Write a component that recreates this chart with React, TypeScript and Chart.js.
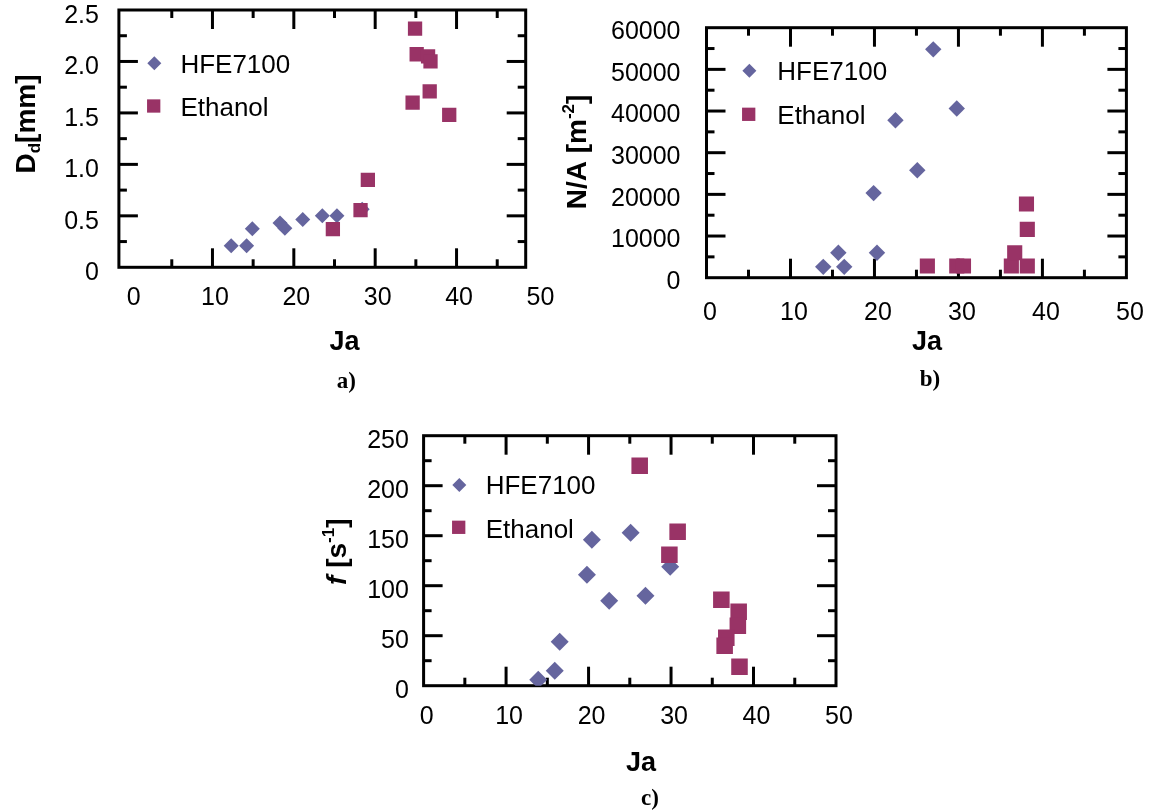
import React, { useEffect, useRef } from 'react';
import { Chart, registerables } from 'chart.js';

Chart.register(...registerables);

const SANS = '"Liberation Sans", Arial, Helvetica, sans-serif';
const SERIF = '"Liberation Serif", "Times New Roman", serif';
const HFE_COLOR = '#65659E';
const ETH_COLOR = '#993366';
const SERIES_NAMES = ['HFE7100', 'Ethanol'];

// ---- panel a) : departure diameter D_d [mm] vs Ja
const jaHfeA = [12.3, 14.2, 14.9, 18.3, 18.9, 21.1, 23.5, 25.3, 28.4];
const ddHfeA = [0.21, 0.21, 0.375, 0.43, 0.38, 0.465, 0.5, 0.5, 0.565];
const jaEthA = [24.8, 28.2, 29.1, 34.9, 35.1, 36.5, 36.8, 36.7, 34.6, 39.1];
const ddEthA = [0.37, 0.555, 0.85, 2.32, 2.07, 2.05, 2.0, 1.71, 1.6, 1.48];

// ---- panel b) : nucleation site density N/A [m^-2] vs Ja
const jaHfeB = [13.9, 15.7, 16.4, 19.9, 20.3, 22.5, 25.1, 27.0, 29.8];
const naHfeB = [2600, 6000, 2600, 20300, 6000, 37800, 25800, 54800, 40600];
const jaEthB = [26.3, 29.8, 30.6, 36.3, 36.7, 38.2, 38.2, 38.1];
const naEthB = [2800, 2800, 2800, 2800, 6000, 2800, 11600, 17700];

// ---- panel c) : bubble frequency f [s^-1] vs Ja
const jaHfeC = [13.9, 15.9, 16.5, 19.8, 20.4, 22.5, 25.1, 26.9, 29.9];
const fHfeC = [6, 15, 44, 111, 146, 85, 153, 90, 119];
const jaEthC = [26.2, 30.8, 29.8, 36.1, 38.2, 38.1, 36.7, 36.5, 38.3];
const fEthC = [220, 154, 131, 86, 74, 60, 48, 40, 19];

// ---- axis ticks
const xTickValues = [0, 10, 20, 30, 40, 50];
const xTickLabels = ['0', '10', '20', '30', '40', '50'];
const xMajorMarks = [10, 20, 30, 40];
const xMinorMarks = [5, 15, 25, 35, 45];

const yTicksA = [0, 0.5, 1, 1.5, 2, 2.5];
const yLabelsA = ['0', '0.5', '1.0', '1.5', '2.0', '2.5'];
const yMinorA = [0.25, 0.75, 1.25, 1.75, 2.25];

const yTicksB = [0, 10000, 20000, 30000, 40000, 50000, 60000];
const yLabelsB = ['0', '10000', '20000', '30000', '40000', '50000', '60000'];
const yMinorB = [5000, 15000, 25000, 35000, 45000, 55000];

const yTicksC = [0, 50, 100, 150, 200, 250];
const yLabelsC = ['0', '50', '100', '150', '200', '250'];
const yMinorC = [25, 75, 125, 175, 225];

type Seg = { text: string; mode?: 'sub' | 'sup'; italic?: boolean };

type Panel = {
  key: string;
  canvas: { left: number; top: number; width: number; height: number };
  frame: { l: number; t: number; r: number; b: number };
  xRange: [number, number];
  yRange: [number, number];
  yTicks: number[];
  yLabels: string[];
  yMinor: number[];
  hfeX: number[];
  hfeY: number[];
  ethX: number[];
  ethY: number[];
  diamondR: number;
  squareR: number;
  xPad: number;
  xOffset: number;
  yPad: number;
  yOffset: number;
  legend: { dx: number; dy: number; sx: number; sy: number; tx: number; ty1: number; ty2: number };
  xTitle: { x: number; y: number };
  yTitle: { x: number; y: number; segs: Seg[] };
  caption: { text: string; x: number; y: number };
};

const Y_AXIS_W = 110;
const X_AXIS_H = 60;
const MAJOR = 19;
const MINOR = 8;
const TICK_FONT = 25;
const LEGEND_FONT = 26;
const XTITLE_FONT = 27;
const YTITLE_FONT = 28;

const panels: Panel[] = [
  {
    key: 'a',
    canvas: { left: 0, top: -30, width: 575, height: 440 },
    frame: { l: 118.9, t: 10, r: 525.7, b: 267.3 },
    xRange: [-1.5, 48.5],
    yRange: [0, 2.5],
    yTicks: yTicksA,
    yLabels: yLabelsA,
    yMinor: yMinorA,
    hfeX: jaHfeA,
    hfeY: ddHfeA,
    ethX: jaEthA,
    ethY: ddEthA,
    diamondR: 7.5,
    squareR: 10.1,
    xPad: 7.7,
    xOffset: 2.5,
    yPad: 12,
    yOffset: 6,
    legend: { dx: 154.3, dy: 63.3, sx: 153.7, sy: 106, tx: 180.4, ty1: 65.5, ty2: 108.8 },
    xTitle: { x: 344.6, y: 342.7 },
    yTitle: { x: 27, y: 124, segs: [{ text: 'D' }, { text: 'd', mode: 'sub' }, { text: '[mm]' }] },
    caption: { text: 'a)', x: 346.4, y: 380 },
  },
  {
    key: 'b',
    canvas: { left: 555, top: -30, width: 600, height: 440 },
    frame: { l: 706.5, t: 27.7, r: 1126.4, b: 277.7 },
    xRange: [0, 50],
    yRange: [0, 60000],
    yTicks: yTicksB,
    yLabels: yLabelsB,
    yMinor: yMinorB,
    hfeX: jaHfeB,
    hfeY: naHfeB,
    ethX: jaEthB,
    ethY: naEthB,
    diamondR: 8.2,
    squareR: 10.7,
    xPad: 12.3,
    xOffset: 3.5,
    yPad: 18,
    yOffset: 4.5,
    legend: { dx: 749.4, dy: 70.7, sx: 748.7, sy: 114.3, tx: 777.3, ty1: 73.3, ty2: 117 },
    xTitle: { x: 927, y: 342.7 },
    yTitle: {
      x: 578,
      y: 152,
      segs: [{ text: 'N/A [m' }, { text: '-2', mode: 'sup' }, { text: ']' }],
    },
    caption: { text: 'b)', x: 930, y: 378 },
  },
  {
    key: 'c',
    canvas: { left: 280, top: 400, width: 620, height: 412 },
    frame: { l: 423.6, t: 435.7, r: 836, b: 685.7 },
    xRange: [0, 50],
    yRange: [0, 250],
    yTicks: yTicksC,
    yLabels: yLabelsC,
    yMinor: yMinorC,
    hfeX: jaHfeC,
    hfeY: fHfeC,
    ethX: jaEthC,
    ethY: fEthC,
    diamondR: 9,
    squareR: 11.7,
    xPad: 8,
    xOffset: 3,
    yPad: 6.7,
    yOffset: 5,
    legend: { dx: 459.3, dy: 485, sx: 458.7, sy: 527.3, tx: 485.7, ty1: 486.7, ty2: 530.7 },
    xTitle: { x: 641, y: 763.3 },
    yTitle: {
      x: 338,
      y: 551.7,
      segs: [{ text: 'f', italic: true }, { text: ' [s' }, { text: '-1', mode: 'sup' }, { text: ']' }],
    },
    caption: { text: 'c)', x: 650, y: 797.3 },
  },
];

function drawRich(ctx: CanvasRenderingContext2D, segs: Seg[], cx: number, cy: number, size: number, rotate: boolean) {
  ctx.save();
  ctx.translate(cx, cy);
  if (rotate) ctx.rotate(-Math.PI / 2);
  const fontFor = (s: Seg) => `${s.italic ? 'italic ' : ''}bold ${s.mode ? Math.round(size * 0.62) : size}px ${SANS}`;
  let total = 0;
  const widths = segs.map((s) => {
    ctx.font = fontFor(s);
    const w = ctx.measureText(s.text).width;
    total += w;
    return w;
  });
  let x = -total / 2;
  ctx.textBaseline = 'middle';
  ctx.textAlign = 'left';
  ctx.fillStyle = '#000';
  segs.forEach((s, i) => {
    ctx.font = fontFor(s);
    const dy = s.mode === 'sub' ? size * 0.3 : s.mode === 'sup' ? -size * 0.3 : 0;
    ctx.fillText(s.text, x, dy);
    x += widths[i];
  });
  ctx.restore();
}

function diamond(ctx: CanvasRenderingContext2D, x: number, y: number, r: number) {
  ctx.beginPath();
  ctx.moveTo(x - r, y);
  ctx.lineTo(x, y - r);
  ctx.lineTo(x + r, y);
  ctx.lineTo(x, y + r);
  ctx.closePath();
  ctx.fill();
}

function square(ctx: CanvasRenderingContext2D, x: number, y: number, r: number) {
  const h = r * Math.SQRT1_2;
  ctx.fillRect(x - h, y - h, 2 * h, 2 * h);
}

function makeDecor(p: Panel) {
  const ox = p.canvas.left;
  const oy = p.canvas.top;
  return {
    id: 'decor_' + p.key,
    beforeDatasetsDraw(chart: any) {
      const { ctx, chartArea: a, scales } = chart;
      const xs = scales.x;
      const ys = scales.y;
      ctx.save();
      ctx.strokeStyle = '#000';
      ctx.lineWidth = 3;
      ctx.lineCap = 'butt';
      const seg = (x1: number, y1: number, x2: number, y2: number) => {
        ctx.beginPath();
        ctx.moveTo(x1, y1);
        ctx.lineTo(x2, y2);
        ctx.stroke();
      };
      const xMark = (v: number, len: number) => {
        const px = xs.getPixelForValue(v);
        if (px <= a.left + 2 || px >= a.right - 2) return;
        seg(px, a.bottom, px, a.bottom - len);
        seg(px, a.top, px, a.top + len);
      };
      const yMark = (v: number, len: number) => {
        const py = ys.getPixelForValue(v);
        if (py <= a.top + 2 || py >= a.bottom - 2) return;
        seg(a.left, py, a.left + len, py);
        seg(a.right, py, a.right - len, py);
      };
      xMajorMarks.forEach((v) => xMark(v, MAJOR));
      xMinorMarks.forEach((v) => xMark(v, MINOR));
      p.yTicks.forEach((v) => yMark(v, MAJOR));
      p.yMinor.forEach((v) => yMark(v, MINOR));
      ctx.strokeRect(a.left, a.top, a.right - a.left, a.bottom - a.top);
      ctx.restore();
    },
    afterDraw(chart: any) {
      const ctx: CanvasRenderingContext2D = chart.ctx;
      const L = p.legend;
      ctx.save();
      ctx.fillStyle = HFE_COLOR;
      diamond(ctx, L.dx - ox, L.dy - oy, 7);
      ctx.fillStyle = ETH_COLOR;
      square(ctx, L.sx - ox, L.sy - oy, 9.4);
      ctx.fillStyle = '#000';
      ctx.font = `${LEGEND_FONT}px ${SANS}`;
      ctx.textAlign = 'left';
      ctx.textBaseline = 'middle';
      ctx.fillText(SERIES_NAMES[0], L.tx - ox, L.ty1 - oy);
      ctx.fillText(SERIES_NAMES[1], L.tx - ox, L.ty2 - oy);
      ctx.restore();
      drawRich(ctx, [{ text: 'Ja' }], p.xTitle.x - ox, p.xTitle.y - oy, XTITLE_FONT, false);
      drawRich(ctx, p.yTitle.segs, p.yTitle.x - ox, p.yTitle.y - oy, YTITLE_FONT, true);
    },
  };
}

function buildConfig(p: Panel): any {
  const ox = p.canvas.left;
  const oy = p.canvas.top;
  const fl = p.frame.l - ox;
  const ft = p.frame.t - oy;
  const fr = p.frame.r - ox;
  const fb = p.frame.b - oy;
  return {
    type: 'scatter',
    data: {
      datasets: [
        {
          label: SERIES_NAMES[0],
          data: p.hfeX.map((x, i) => ({ x, y: p.hfeY[i] })),
          pointStyle: 'rectRot',
          pointRadius: p.diamondR,
          backgroundColor: HFE_COLOR,
          borderColor: HFE_COLOR,
          borderWidth: 0,
          order: 1,
        },
        {
          label: SERIES_NAMES[1],
          data: p.ethX.map((x, i) => ({ x, y: p.ethY[i] })),
          pointStyle: 'rect',
          pointRadius: p.squareR,
          backgroundColor: ETH_COLOR,
          borderColor: ETH_COLOR,
          borderWidth: 0,
          order: 0,
        },
      ],
    },
    options: {
      animation: false,
      responsive: false,
      maintainAspectRatio: false,
      events: [],
      layout: {
        padding: {
          left: fl - Y_AXIS_W,
          top: ft,
          right: p.canvas.width - fr,
          bottom: p.canvas.height - fb - X_AXIS_H,
        },
      },
      plugins: {
        legend: { display: false },
        tooltip: { enabled: false },
        title: { display: false },
      },
      scales: {
        x: {
          type: 'linear',
          min: p.xRange[0],
          max: p.xRange[1],
          grid: { display: false },
          border: { display: false },
          ticks: {
            color: '#000',
            font: { family: SANS, size: TICK_FONT },
            padding: p.xPad,
            labelOffset: p.xOffset,
            autoSkip: false,
            maxRotation: 0,
            minRotation: 0,
            includeBounds: false,
            callback: (_v: any, i: number) => xTickLabels[i],
          },
          afterBuildTicks: (s: any) => {
            s.ticks = xTickValues.map((v) => ({ value: v }));
          },
          afterFit: (s: any) => {
            s.height = X_AXIS_H;
          },
        },
        y: {
          type: 'linear',
          min: p.yRange[0],
          max: p.yRange[1],
          grid: { display: false },
          border: { display: false },
          ticks: {
            color: '#000',
            font: { family: SANS, size: TICK_FONT },
            padding: p.yPad,
            labelOffset: p.yOffset,
            autoSkip: false,
            includeBounds: false,
            callback: (_v: any, i: number) => p.yLabels[i],
          },
          afterBuildTicks: (s: any) => {
            s.ticks = p.yTicks.map((v) => ({ value: v }));
          },
          afterFit: (s: any) => {
            s.width = Y_AXIS_W;
          },
        },
      },
    },
    plugins: [makeDecor(p)],
  };
}

function PanelChart({ p }: { p: Panel }) {
  const ref = useRef<HTMLCanvasElement>(null);
  useEffect(() => {
    const c = ref.current;
    if (!c) return;
    const chart = new Chart(c, buildConfig(p));
    return () => chart.destroy();
  }, [p]);
  return (
    <canvas
      ref={ref}
      width={p.canvas.width}
      height={p.canvas.height}
      style={{
        position: 'absolute',
        left: p.canvas.left,
        top: p.canvas.top,
        width: p.canvas.width,
        height: p.canvas.height,
      }}
    />
  );
}

export default function App() {
  return (
    <div
      style={{
        position: 'absolute',
        left: 0,
        top: 0,
        width: 1155,
        height: 812,
        overflow: 'hidden',
        background: '#fff',
      }}
    >
      {panels.map((p) => (
        <PanelChart key={p.key} p={p} />
      ))}
      {panels.map((p) => (
        <div
          key={'cap' + p.key}
          style={{
            position: 'absolute',
            left: p.caption.x,
            top: p.caption.y,
            transform: 'translate(-50%, -50%)',
            font: `bold 23px ${SERIF}`,
            color: '#000',
            whiteSpace: 'nowrap',
            lineHeight: 1,
          }}
        >
          {p.caption.text}
        </div>
      ))}
    </div>
  );
}
